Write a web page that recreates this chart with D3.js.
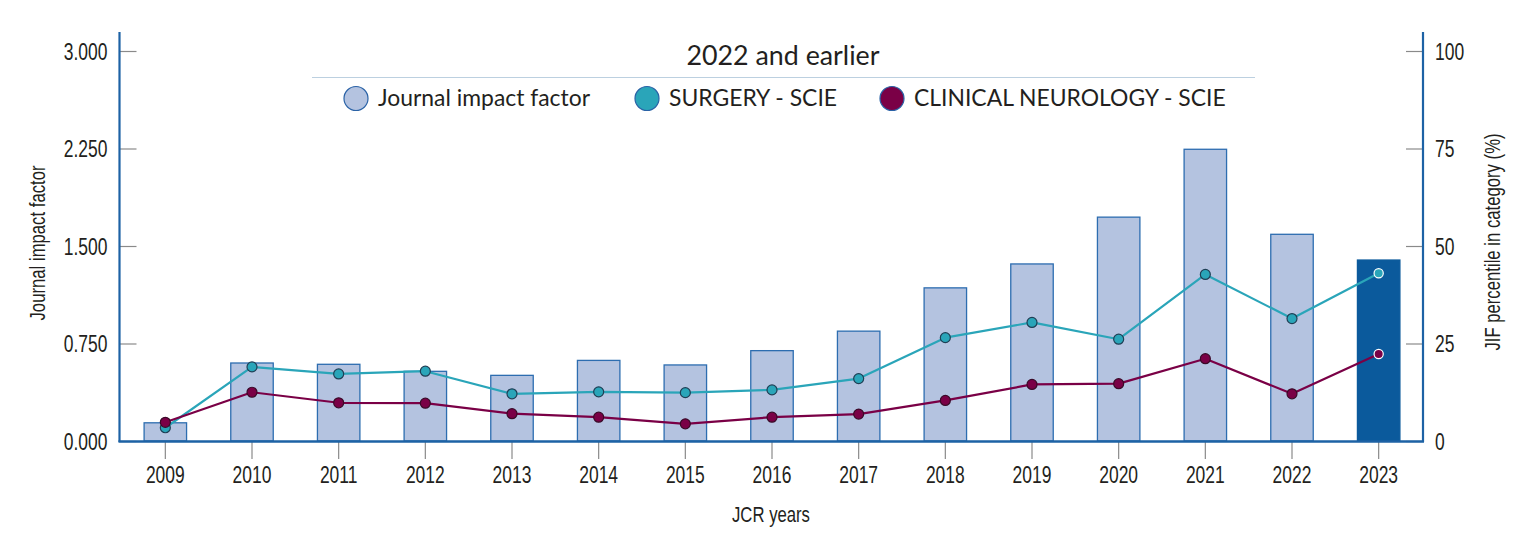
<!DOCTYPE html>
<html><head><meta charset="utf-8">
<script src="https://cdn.jsdelivr.net/npm/d3@7"></script>
<style>
html,body{margin:0;padding:0;background:#fff;}
svg{display:block;}
</style></head>
<body><svg id="chart" width="1528" height="550"></svg>
<script>
const years = ["2009","2010","2011","2012","2013","2014","2015","2016","2017","2018","2019","2020","2021","2022","2023"];
const impactFactor = [0.14,0.60,0.59,0.536,0.505,0.62,0.585,0.695,0.845,1.178,1.362,1.722,2.244,1.59,1.392];
const surgeryPct = [3.4,19.0,17.2,17.9,12.1,12.6,12.4,13.1,16.0,26.5,30.4,26.1,42.7,31.4,43.0];
const neurologyPct = [4.8,12.5,9.8,9.7,7.0,6.1,4.4,6.1,6.9,10.4,14.5,14.7,21.1,12.1,22.3];
const leftTicks = [0, 0.75, 1.5, 2.25, 3.0];
const rightTicks = [0, 25, 50, 75, 100];
const legendLabels = ["Journal impact factor","SURGERY - SCIE","CLINICAL NEUROLOGY - SCIE"];
const titleText = "2022 and earlier";

const svg = d3.select("#chart");
const axisBlue = "#1d62a5", tickGray = "#8a8a8a";
const barFill = "#b4c3e0", barStroke = "#2d6db0", barDark = "#0b5a9c";
const teal = "#2aa5b9", maroon = "#7a0046";
const narrow = "'Liberation Sans', Arial, sans-serif";
const SX = 0.76;
const lato = "Lato, sans-serif";
const textCol = "#231f20";

const x0 = 119.5, x1 = 1423, yTop = 51, yBot = 441;
const x = d3.scaleBand().domain(years).range([122, 1422]).paddingInner(0.51).paddingOuter(0.255);
const yL = d3.scaleLinear().domain([0, 3]).range([yBot, yTop]);
const yR = d3.scaleLinear().domain([0, 100]).range([yBot, yTop]);

// Bars
svg.append("g").selectAll("rect").data(years).join("rect")
  .attr("x", d => x(d))
  .attr("width", x.bandwidth())
  .attr("y", (d,i) => yL(impactFactor[i]))
  .attr("height", (d,i) => yBot - yL(impactFactor[i]))
  .attr("fill", (d,i) => i === years.length-1 ? barDark : barFill)
  .attr("stroke", (d,i) => i === years.length-1 ? barDark : barStroke)
  .attr("stroke-width", 1.3);

function condense(sel, dx, dy){
  sel.each(function(){
    d3.select(this).attr("transform", `translate(${dx},${dy}) scale(${SX},1)`).attr("x", 0).attr("dy", "0.36em").attr("y", 0);
  });
}

// Left axis
const gL = svg.append("g").attr("transform", `translate(${x0},0)`)
  .call(d3.axisLeft(yL).tickValues(leftTicks).tickSizeInner(-17).tickSizeOuter(0).tickFormat(d3.format(".3f")));
gL.select(".domain").remove();
gL.selectAll(".tick line").attr("stroke", tickGray).attr("stroke-width", 1.2);
gL.selectAll(".tick text").attr("font-family", narrow).attr("font-size", 23).attr("fill", textCol).attr("text-anchor","end");
condense(gL.selectAll(".tick text"), -12, 0);

// Right axis
const gR = svg.append("g").attr("transform", `translate(${x1},0)`)
  .call(d3.axisRight(yR).tickValues(rightTicks).tickSizeInner(-17).tickSizeOuter(0).tickFormat(d3.format("d")));
gR.select(".domain").remove();
gR.selectAll(".tick line").attr("stroke", tickGray).attr("stroke-width", 1.2);
gR.selectAll(".tick text").attr("font-family", narrow).attr("font-size", 23).attr("fill", textCol).attr("text-anchor","start");
condense(gR.selectAll(".tick text"), 12, 0);

// Bottom axis
const gB = svg.append("g").attr("transform", `translate(0,${yBot})`)
  .call(d3.axisBottom(x).tickSizeInner(18).tickSizeOuter(0));
gB.select(".domain").remove();
gB.selectAll(".tick line").attr("stroke", tickGray).attr("stroke-width", 1.2);
gB.selectAll(".tick text").attr("font-family", narrow).attr("font-size", 23).attr("fill", textCol).attr("text-anchor","middle");
condense(gB.selectAll(".tick text"), 0, 34);

// Axis lines
svg.append("line").attr("x1", x0).attr("x2", x0).attr("y1", 32).attr("y2", yBot+1).attr("stroke", axisBlue).attr("stroke-width", 2.2);
svg.append("line").attr("x1", x1).attr("x2", x1).attr("y1", 32).attr("y2", yBot+1).attr("stroke", axisBlue).attr("stroke-width", 2.2);
svg.append("line").attr("x1", x0-1).attr("x2", x1+1).attr("y1", yBot+0.5).attr("y2", yBot+0.5).attr("stroke", axisBlue).attr("stroke-width", 2.4);

// Lines
const cx = d => x(d) + x.bandwidth()/2;
function drawSeries(vals, color, markStroke){
  const line = d3.line().x((d,i) => cx(years[i])).y(d => yR(d));
  svg.append("path").datum(vals).attr("d", line).attr("fill","none").attr("stroke", color).attr("stroke-width", 2.2).attr("stroke-linejoin","round");
  svg.append("g").selectAll("circle").data(vals).join("circle")
    .attr("cx", (d,i) => cx(years[i])).attr("cy", d => yR(d))
    .attr("r", (d,i) => i === years.length-1 ? 4.6 : 5)
    .attr("fill", color)
    .attr("stroke", (d,i) => i === years.length-1 ? "#ffffff" : markStroke)
    .attr("stroke-width", 1.2);
}
drawSeries(surgeryPct, teal, "#1f3f55");
drawSeries(neurologyPct, maroon, "#3a0a28");

// Axis titles
svg.append("text").attr("transform", `translate(45,243) rotate(-90) scale(${SX},1)`).attr("text-anchor","middle")
  .attr("font-family", narrow).attr("font-size", 22).attr("fill", textCol).text("Journal impact factor");
svg.append("text").attr("transform", `translate(1500,242) rotate(-90) scale(${SX},1)`).attr("text-anchor","middle")
  .attr("font-family", narrow).attr("font-size", 22).attr("fill", textCol).text("JIF percentile in category (%)");
svg.append("text").attr("transform", `translate(771,522) scale(${SX},1)`).attr("text-anchor","middle")
  .attr("font-family", narrow).attr("font-size", 22).attr("fill", textCol).text("JCR years");

// Title & legend
svg.append("rect").attr("x", 300).attr("y", 30).attr("width", 970).attr("height", 88).attr("fill", "#fff");
svg.append("text").attr("x", 783).attr("y", 65).attr("text-anchor","middle")
  .attr("font-family", lato).attr("font-size", 26.8).attr("fill", textCol).text(titleText);
svg.append("line").attr("x1", 312).attr("x2", 1255).attr("y1", 77.5).attr("y2", 77.5).attr("stroke", "#bcd0e0").attr("stroke-width", 1.2);
const legFills = [barFill, teal, maroon];
const legX = [356, 647, 892];
legendLabels.forEach((t,i) => {
  svg.append("circle").attr("cx", legX[i]).attr("cy", 98.5).attr("r", 12).attr("fill", legFills[i]).attr("stroke", "#2a62a6").attr("stroke-width", 1.2);
  svg.append("text").attr("x", legX[i]+22).attr("y", 106).attr("font-family", lato).attr("font-size", 22.9).attr("fill", textCol).text(t);
});
</script>
</body></html>
